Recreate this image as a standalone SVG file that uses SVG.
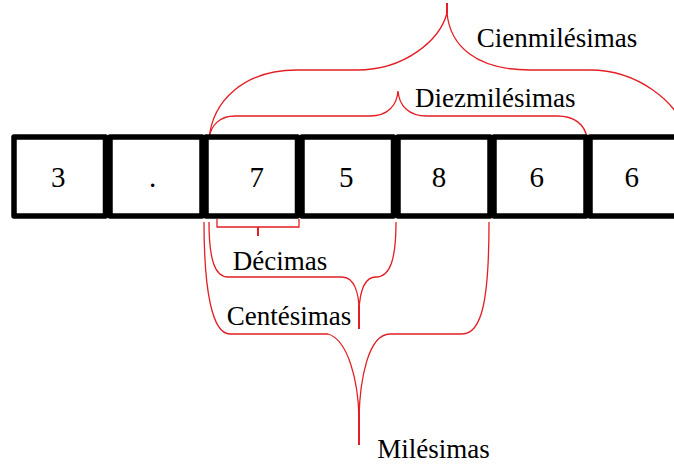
<svg xmlns="http://www.w3.org/2000/svg" width="674" height="464" viewBox="0 0 674 464">
<style>
.box{fill:#fff;stroke:#000;stroke-width:5.5;stroke-linejoin:round}
.dig{font-family:'Liberation Serif','DejaVu Serif',serif;font-size:29px;fill:#000;text-anchor:middle}
.lbl{font-family:'Liberation Serif','DejaVu Serif',serif;font-size:27px;fill:#000}
.br{fill:none;stroke:#e31e24;stroke-width:1.3}
.tip{fill:none;stroke:#e31e24;stroke-width:2}
</style>
<rect width="674" height="464" fill="#fff"/>
<g id="connectors">
<path class="br" d="M209,140 C212,100 245,70 297,70 L357,70 C405,70 440,40 447,13 C450,45 475,70 530,70 L590,70 C635,70 680,100 688,140"/>
<path class="tip" d="M447,3 L447,14"/>
<path class="br" d="M209,138 C211,125 220,116 235,116 L370,116 C388,116 397,105 398,91 C399,105 408,116 427,116 L557,116 C575,116 585,125 587,138"/>
<path class="br" d="M217,219 L217,227 L299,227 L299,219"/>
<path class="tip" d="M258,227 L258,236"/>
<path class="br" d="M209,222 C209,260 215,277 228,277 L342,277 C355,277 359,295 359,310 C360,290 365,277 376,277 C390,277 396,260 396,222"/>
<path class="tip" d="M359,305 L359,329"/>
<path class="br" d="M204,222 C204,290 212,334 230,334 L328,334 C348,340 358,380 359,417 C360,380 368,334 390,334 L462,334 C482,334 489,300 489,222"/>
<path class="tip" d="M359,410 L359,445"/>
</g>
<g id="box1"><rect class="box" x="14" y="137" width="91.5" height="79"/><text class="dig" x="58.3" y="186.7">3</text></g>
<g id="box2"><rect class="box" x="110" y="137" width="92" height="79"/><text class="dig" x="152.5" y="186.7">.</text></g>
<g id="box3"><rect class="box" x="206" y="137" width="91.5" height="79"/><text class="dig" x="256.7" y="186.7">7</text></g>
<g id="box4"><rect class="box" x="302" y="137" width="91.5" height="79"/><text class="dig" x="346.3" y="186.7">5</text></g>
<g id="box5"><rect class="box" x="398" y="137" width="92" height="79"/><text class="dig" x="439" y="186.7">8</text></g>
<g id="box6"><rect class="box" x="494" y="137" width="92" height="79"/><text class="dig" x="536.7" y="186.7">6</text></g>
<g id="box7"><rect class="box" x="590" y="137" width="92" height="79"/><text class="dig" x="631.7" y="186.7">6</text></g>
<g id="labels">
<text class="lbl" x="476.7" y="46.7">Cienmilésimas</text>
<text class="lbl" x="415" y="106.5">Diezmilésimas</text>
<text class="lbl" x="232.7" y="270">Décimas</text>
<text class="lbl" x="226.7" y="325">Centésimas</text>
<text class="lbl" x="377.3" y="458.3">Milésimas</text>
</g>
</svg>
